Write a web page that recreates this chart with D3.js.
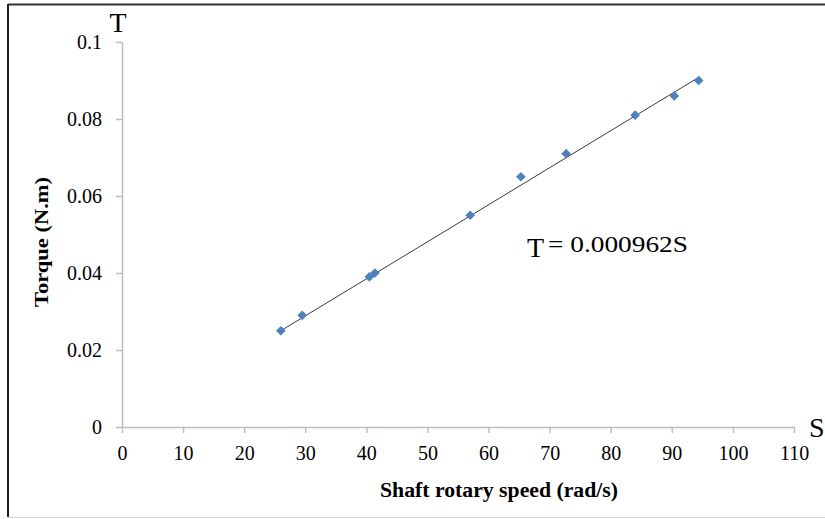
<!DOCTYPE html>
<html>
<head>
<meta charset="utf-8">
<script src="https://cdn.jsdelivr.net/npm/d3@7"></script>
<style>
  html, body { margin: 0; padding: 0; background: #fff; }
  svg { display: block; }
  text { font-family: "Liberation Serif", "Times New Roman", serif; fill: #000; }
</style>
</head>
<body>
<svg id="chart" width="825" height="519"></svg>
<script>
// measured points (shaft speed in rad/s, torque in N.m)
const speed = [26, 29.5, 40.5, 41.4, 57, 65.3, 72.7, 84, 90.4, 94.4];
const torque = [0.025, 0.029, 0.039, 0.040, 0.055, 0.065, 0.071, 0.081, 0.086, 0.090];
const slope = 0.000962;

const xTicks = [0, 10, 20, 30, 40, 50, 60, 70, 80, 90, 100, 110];
const yTicks = [0, 0.02, 0.04, 0.06, 0.08, 0.1];

const svg = d3.select('#chart');

// frame around the picture
svg.append('line').attr('x1', 8).attr('x2', 825).attr('y1', 4.5).attr('y2', 4.5)
  .attr('stroke', '#333').attr('stroke-width', 2);
svg.append('line').attr('x1', 8).attr('x2', 8).attr('y1', 4).attr('y2', 517)
  .attr('stroke', '#222').attr('stroke-width', 2);
svg.append('line').attr('x1', 8).attr('x2', 825).attr('y1', 517.5).attr('y2', 517.5)
  .attr('stroke', '#d9d9d9').attr('stroke-width', 1);

const x = d3.scaleLinear().domain([0, 110]).range([122, 794]);
const y = d3.scaleLinear().domain([0, 0.1]).range([427, 42]);

// axes
const xAxis = svg.append('g')
  .attr('transform', `translate(0,${y(0)})`)
  .call(d3.axisBottom(x).tickValues(xTicks).tickSize(6).tickPadding(13).tickSizeOuter(0)
    .tickFormat(d3.format('d')));

const yAxis = svg.append('g')
  .attr('transform', `translate(${x(0)},0)`)
  .call(d3.axisLeft(y).tickValues(yTicks).tickSize(6).tickPadding(14).tickSizeOuter(0)
    .tickFormat((d) => (d === 0 ? '0' : String(+d.toFixed(2)))));

[xAxis, yAxis].forEach((a) => {
  a.attr('font-family', null);
  a.select('.domain').attr('stroke', '#bdbdbd').attr('stroke-width', 1.5);
  a.selectAll('.tick line').attr('stroke', '#bdbdbd').attr('stroke-width', 1.5);
  a.selectAll('.tick text')
    .attr('font-size', 20).attr('fill', '#111');
});

// trend line T = 0.000962 S over the measured range
const sMin = d3.min(speed);
const sMax = d3.max(speed);
svg.append('line')
  .attr('x1', x(sMin)).attr('y1', y(slope * sMin))
  .attr('x2', x(sMax)).attr('y2', y(slope * sMax))
  .attr('stroke', '#3a3a3a').attr('stroke-width', 1);

// data points as diamonds
const diamond = d3.symbol().type(d3.symbolDiamond2).size(60);
svg.append('g')
  .selectAll('path')
  .data(speed.map((s, i) => ({ s, t: torque[i] })))
  .join('path')
  .attr('d', diamond)
  .attr('transform', (d) => `translate(${x(d.s)},${y(d.t)})`)
  .attr('fill', '#4f81bd');

// axis letters
svg.append('text').attr('x', 118).attr('y', 32).attr('text-anchor', 'middle')
  .attr('font-size', 28).text('T');
svg.append('text').attr('x', 809).attr('y', 437)
  .attr('font-size', 28).text('S');

// equation
svg.append('text').attr('x', 527).attr('y', 257)
  .attr('font-size', 28).text('T');
svg.append('text').attr('x', 548).attr('y', 252)
  .attr('font-size', 24)
  .attr('textLength', 140).attr('lengthAdjust', 'spacingAndGlyphs')
  .text('= 0.000962S');

// axis titles
svg.append('text')
  .attr('x', 499).attr('y', 497).attr('text-anchor', 'middle')
  .attr('font-size', 20).attr('font-weight', 'bold')
  .attr('textLength', 238).attr('lengthAdjust', 'spacingAndGlyphs')
  .text('Shaft rotary speed (rad/s)');

svg.append('text')
  .attr('transform', 'translate(48,242) rotate(-90)')
  .attr('text-anchor', 'middle')
  .attr('font-size', 19).attr('font-weight', 'bold')
  .attr('textLength', 130).attr('lengthAdjust', 'spacingAndGlyphs')
  .text('Torque  (N.m)');
</script>
</body>
</html>
